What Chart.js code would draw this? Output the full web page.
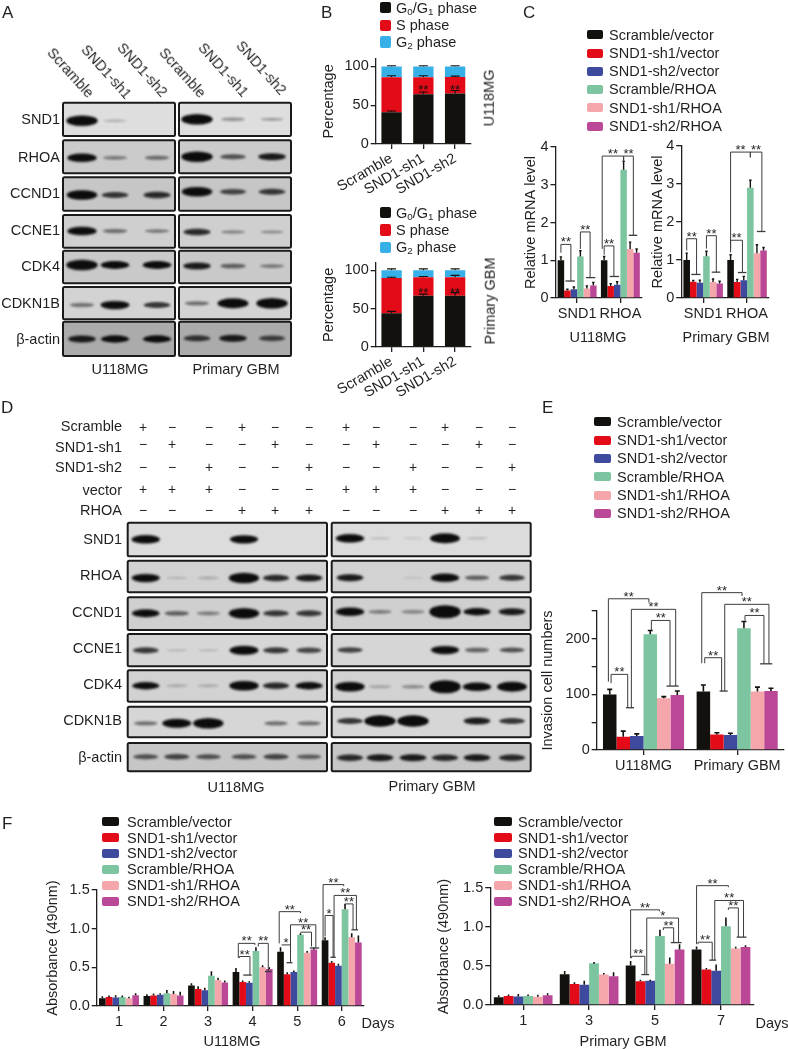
<!DOCTYPE html>
<html><head><meta charset="utf-8">
<style>
html,body{margin:0;padding:0;background:#fff}
#page{position:relative;width:788px;height:1049px;overflow:hidden;font-family:"Liberation Sans",Arial,sans-serif;color:#231f20}
canvas{position:absolute}
.t{position:absolute;white-space:nowrap;line-height:1;z-index:5;will-change:transform}
.s{position:absolute;border-radius:2px;z-index:5}
sub{font-size:.68em;line-height:0;vertical-align:-.25em}
</style>
<script src="https://cdn.jsdelivr.net/npm/chart.js@4"></script>
</head><body><div id="page"></div>
<script>
// ---------- Data ----------
const seriesNames=['Scramble/vector','SND1-sh1/vector','SND1-sh2/vector','Scramble/RHOA','SND1-sh1/RHOA','SND1-sh2/RHOA'];
const proteins=['SND1','RHOA','CCND1','CCNE1','CDK4','CDKN1B','β-actin'];
const phaseNames=['G<sub>0</sub>/G<sub>1</sub> phase','S phase','G<sub>2</sub> phase'];
const shLabels=['Scramble','SND1-sh1','SND1-sh2'];
// A: band strength, one row per protein, six lanes
const blotA=[[1,.1,0,1,.2,.15],[.8,.25,.3,1,.4,.6],[.9,.5,.55,.9,.45,.5],[.8,.3,.25,.55,.2,.18],[1,.7,.7,.6,.35,.25],[.3,.75,.5,.3,.95,1],[.6,.65,.65,.5,.6,.45]];
// D: band strength
const blotDU=[[.8,0,0,.75,0,0],[.75,.04,.1,1,.55,.6],[.7,.35,.25,1,.5,.5],[.5,.04,.04,.85,.5,.45],[.65,.1,.1,.9,.55,.65],[.3,.85,1,0,.3,.3],[.4,.45,.4,.4,.45,.35]];
const blotDP=[[.8,.03,.02,.95,.05,0],[.6,0,.02,.8,.35,.5],[.8,.25,.22,1.3,.65,.6],[.45,0,0,.75,.35,.4],[.9,.12,.2,1.3,.8,.95],[.5,1.1,1.1,0,.6,.5],[.55,.6,.6,.55,.6,.55]];
const treatments=['Scramble','SND1-sh1','SND1-sh2','vector','RHOA'];
const treatmentSigns=['+−−+−−','−+−−+−','−−+−−+','+++−−−','−−−+++'];
// B
const bU118G0=[41,64,65], bU118S=[45,22,21.5], bU118G2=[14,14,13.5];
const bU118G0Err=[1.5,3,4], bU118SErr=[2,2,1], bU118G2Err=[1,1,1];
const bGbmG0=[44,67,67], bGbmS=[46,24,24], bGbmG2=[10,9,9];
const bGbmG0Err=[2.5,2,4], bGbmSErr=[1,1,2.5], bGbmG2Err=[2,2,2];
// C (rows = SND1, RHOA)
const cGenes=['SND1','RHOA'];
const cU118=[[1,.2,.23,1.1,.25,.33],[1,.32,.35,3.4,1.3,1.2]];
const cU118Err=[[.09,.03,.06,.15,.07,.08],[.1,.06,.08,.22,.18,.1]];
const cGbm=[[1,.43,.4,1.1,.42,.38],[1,.42,.47,2.9,1.18,1.25]];
const cGbmErr=[[.18,.03,.07,.13,.08,.06],[.14,.07,.1,.2,.22,.08]];
// E
const eCells=['U118MG','Primary GBM'];
const eCounts=[[100,24,25,208,93,99],[105,28,27,219,105,106]];
const eCountsErr=[[9,10,4,7,3,7],[12,3,3,12,8,5]];
// F
const fDaysU=['1','2','3','4','5','6'];
const fU118=[[.1,.115,.11,.115,.1,.14],[.13,.135,.145,.165,.155,.135],[.265,.22,.205,.39,.335,.305],[.44,.31,.3,.71,.5,.48],[.7,.41,.44,.92,.69,.73],[.85,.56,.52,1.25,.89,.82]];
const fU118Err=[[.015,.01,.02,.01,.01,.015],[.01,.015,.01,.03,.03,.04],[.02,.025,.02,.05,.02,.015],[.04,.01,.01,.04,.015,.01],[.05,.015,.01,.01,.01,.015],[.03,.01,.015,.06,.04,.08]];
const fDaysG=['1','3','5','7'];
const fGbm=[[.1,.115,.11,.115,.105,.125],[.395,.27,.26,.535,.39,.37],[.505,.305,.31,.885,.53,.71],[.71,.455,.44,1.01,.725,.745]];
const fGbmErr=[[.015,.01,.02,.01,.015,.015],[.03,.01,.04,.005,.01,.04],[.05,.01,.005,.07,.07,.06],[.03,.01,.07,.1,.01,.01]];
// significance brackets: group, series start, left foot, top, series end, right foot, stars, cap start, cap end
const cU118Sig=[[0,0,1.2,1.42,1.54,.45,'**',.7,2.15],[0,3,1.3,1.75,4.5,.54,'**',3.85,5.3],[1,0,1.15,1.38,1.5,.57,'**',.85,2.3],[1,-.3,1.3,3.76,3,3.62,'**'],[1,3,3.62,3.76,4.5,1.66,'**',3.8,5.1]];
const cGbmSig=[[0,0,1.25,1.56,1.5,.62,'**',.7,2.1],[0,3,1.3,1.64,4.5,.68,'**',3.8,5.1],[1,0,1.2,1.52,1.8,.67,'**',1.1,2.4],[1,0,1.3,3.84,3,3.7,'**'],[1,3,3.7,3.84,4.75,1.75,'**',4,5.3]];
const eSig=[[0,-.1,123,272,2.9,265,'**'],[0,.1,120,136,1.33,76,'**',1.2,1.8],[0,1.6,76,253,4.88,115,'**',4.2,5.1],[0,3.08,215,233,4.46,115,'**'],[1,-.12,156,283,2.86,277,'**'],[1,.1,156,166,1.35,106,'**',1.2,1.8],[1,1.58,106,262,4.85,155,'**',4.2,5.1],[1,3.08,233,242,4.48,155,'**']];
const fU118Sig=[[3,.35,.62,.81,2.85,.79,'**'],[3,.5,.62,.64,2.1,.4,'**',1.1,2.35],[3,3.35,.77,.81,4.85,.445,'**',4.35,5.35],
[4,-.2,.81,1.22,3,1.2,'**'],[4,.15,.79,.79,1.5,.56,'*',.9,1.8],[4,1.5,.56,1.05,5.3,.75,'**',4.4,5.8],[4,3,.95,.955,4.65,.77,'**'],
[5,-.3,.85,1.57,2.8,1.55,'**'],[5,0,.9,1.17,1.2,.63,'*',.8,1.6],[5,1.35,.63,1.43,4.7,.985,'**',3.95,4.95],[5,2.95,1.3,1.32,4.2,.985,'**']];
const fGbmSig=[[2,0,.6,1.22,2.95,1.2,'**'],[2,.1,.6,.625,1.45,.39,'**',1.1,1.9],[2,1.65,.39,1.115,4.9,.8,'*',4.1,5.2],[2,3.35,.96,.99,4.4,.8,'**'],
[3,0,.78,1.53,3.25,1.51,'**'],[3,.15,.78,.805,1.6,.575,'**',1.3,2],[3,1.86,.575,1.34,4.8,.87,'**',4.1,5.1],[3,3.25,1.22,1.245,4.27,.87,'**']];
// ---------- Styles ----------
const seriesColors=['#12110d','#e30b17','#3d4a9e','#7dc5a0','#f4a6ab','#bb4797'];
const phaseColors=['#12110d','#e30b17','#36b0e6'];
const INK='#231f20', FS=14.5;
const page=document.getElementById('page');
const FONT={family:'"Liberation Sans",Arial,sans-serif',size:FS};
Chart.defaults.color=INK; Chart.defaults.font.family=FONT.family;

function T(html,x,y,o={}){const d=document.createElement('div');d.className='t';d.innerHTML=html;
 const a=o.align||'left',size=o.size||FS;d.style.fontSize=size+'px';d.style.left=x+'px';d.style.top=y+'px';
 const tx=a==='left'?'0':a==='right'?'-100%':'-50%';
 d.style.transformOrigin=a==='left'?'0 50%':'50% 50%';
 d.style.transform=`translate(${tx},-50%)`+(o.rot?` rotate(${o.rot}deg)`:'');page.appendChild(d);return d}
function legend(names,colors,sx,sw,sh,tx,ys){names.forEach((n,i)=>{const s=document.createElement('div');s.className='s';
 s.style.cssText=`left:${sx}px;top:${ys[i]-sh/2}px;width:${sw}px;height:${sh}px;background:${colors[i]}`;page.appendChild(s);T(n,tx,ys[i]);});}

const errorBars={id:'errorBars',afterDatasetsDraw(ch,a,opt){const c=ch.ctx,ys=ch.scales.y;c.save();
 ch.data.datasets.forEach((d,i)=>{if(!d.errs)return;const m=ch.getDatasetMeta(i);
  m.data.forEach((el,k)=>{const top=el.y,h=ys.getPixelForValue(0)-ys.getPixelForValue(d.errs[k]);
   c.strokeStyle='#12110d';c.lineWidth=opt.lw||1.4;c.beginPath();c.moveTo(el.x,top);c.lineTo(el.x,top-h);
   c.moveTo(el.x-opt.cap,top-h);c.lineTo(el.x+opt.cap,top-h);c.stroke();});});c.restore();}};
const brackets={id:'brackets',afterDraw(ch,a,opt){const c=ch.ctx,xs=ch.scales.x,ys=ch.scales.y,n=opt.n||6;
 const cw=xs.getPixelForValue(1)-xs.getPixelForValue(0),bw=cw*opt.pct/n;
 const X=(g,s)=>xs.getPixelForValue(g)+(s-(n-1)/2)*bw;c.save();
 (opt.sig||[]).forEach(b=>{const[g,s1,y1,top,s2,y2,lab,ca,cb]=b;const x1=X(g,s1),x2=X(g,s2),Yt=ys.getPixelForValue(top);
  c.strokeStyle='#3c3c3c';c.lineWidth=1;c.beginPath();c.moveTo(x1,ys.getPixelForValue(y1));c.lineTo(x1,Yt);c.lineTo(x2,Yt);c.lineTo(x2,ys.getPixelForValue(y2));c.stroke();
  if(ca!==undefined){c.lineWidth=1.3;c.beginPath();c.moveTo(X(g,ca),ys.getPixelForValue(y2));c.lineTo(X(g,cb),ys.getPixelForValue(y2));c.stroke();}
  c.fillStyle=INK;c.font=`13px ${FONT.family}`;c.textAlign='center';c.textBaseline='alphabetic';c.fillText(lab,(x1+x2)/2,Yt+2);});
 (opt.stars||[]).forEach(([g,v])=>{c.fillStyle='#12110d';c.font=`13px ${FONT.family}`;c.textAlign='center';c.textBaseline='alphabetic';c.fillText('**',xs.getPixelForValue(g),ys.getPixelForValue(v)+7);});
 c.restore();}};

function barChart(o){
 const pad=o.topPad||40,botH=o.botH||30,padR=o.padR||8,cl=o.titleCx-8.7;
 const W=Math.round(o.plot.r+padR-cl),H=Math.round(o.plot.b-o.plot.t+pad+botH);
 const cv=document.createElement('canvas');cv.width=W;cv.height=H;cv.style.left=cl+'px';cv.style.top=(o.plot.t-pad)+'px';page.appendChild(cv);
 const axis={color:INK,width:1.3};
 new Chart(cv.getContext('2d'),{type:'bar',data:{labels:o.labels,datasets:o.datasets},
  options:{responsive:false,animation:false,events:[],devicePixelRatio:1,
   layout:{padding:{top:pad,right:padR,left:0,bottom:0}},
   plugins:{legend:{display:false},tooltip:{enabled:false},
    errorBars:{cap:o.cap,lw:o.lw},brackets:{sig:o.sig,stars:o.stars,pct:o.pct,n:o.datasets.length}},
   datasets:{bar:{categoryPercentage:o.pct,barPercentage:o.barPct||1,borderWidth:0}},
   scales:{
    x:{stacked:!!o.stacked,grid:{drawOnChartArea:false,drawTicks:true,tickLength:5,color:INK,lineWidth:1.3,offset:false},border:axis,
       ticks:{font:FONT,color:INK,padding:o.xPad||2,autoSkip:false,minRotation:o.rot||0,maxRotation:o.rot||0},
       afterFit(s){s.height=botH}},
    y:{stacked:!!o.stacked,min:0,max:o.max,grid:{drawOnChartArea:false,drawTicks:true,tickLength:5,color:INK,lineWidth:1.3},border:axis,
       title:{display:true,text:o.title,font:FONT,color:INK,padding:0},
       ticks:{font:FONT,color:INK,padding:2,stepSize:o.step,includeBounds:false,callback:o.tick},
       afterFit(s){s.width=o.plot.l-cl}}
   }},plugins:[errorBars,brackets]});
}
function grouped(rows,errs){return seriesNames.map((n,i)=>({label:n,backgroundColor:seriesColors[i],data:rows.map(r=>r[i]),errs:errs.map(r=>r[i])}));}

// ---------- Blots ----------
function band(i,base){const w=base*(.72+.33*Math.min(i,1.1)),h=1.5+9*i,blur=1.1;
 const cv=document.createElement('canvas');cv.width=Math.ceil(w+10);cv.height=Math.ceil(h+10);const c=cv.getContext('2d');
 c.filter=`blur(${blur}px)`;c.fillStyle=`rgba(12,12,12,${Math.min(1,.12+i*1.35)})`;c.beginPath();c.ellipse(cv.width/2,cv.height/2,w/2,h/2,0,0,7);c.fill();return cv;}
const frames={id:'frames',beforeDatasetsDraw(ch,a,opt){const c=ch.ctx,xs=ch.scales.x,ys=ch.scales.y;c.save();
 opt.rects.forEach(r=>{const x=xs.getPixelForValue(r[0]),x2=xs.getPixelForValue(r[1]),y=ys.getPixelForValue(r[2]),y2=ys.getPixelForValue(r[3]);
  c.fillStyle=r[4];c.strokeStyle='#1a1a1a';c.lineWidth=2;c.beginPath();c.roundRect(x,y,x2-x,y2-y,1.5);c.fill();c.stroke();});c.restore();}};
function blotChart(top,height,groups,rowRanges,baseW){
 const cv=document.createElement('canvas');cv.width=788;cv.height=height;cv.style.left='0';cv.style.top=top+'px';page.appendChild(cv);
 const rects=[];const pts=[];
 groups.forEach(g=>{rowRanges.forEach((r,ri)=>{rects.push([g.l,g.r,r[0],r[1],g.bg[ri]]);
  g.values[ri].forEach((v,k)=>{if(v>0)pts.push({x:g.lanes[k],y:g.rowY[ri],v});});});});
 new Chart(cv.getContext('2d'),{type:'scatter',data:{datasets:[{data:pts,pointRadius:5,pointStyle:ctx=>{const p=ctx.raw;return p?band(p.v,baseW):'circle'}}]},
  options:{responsive:false,animation:false,events:[],devicePixelRatio:1,layout:{padding:0,autoPadding:false},
   plugins:{legend:{display:false},tooltip:{enabled:false},frames:{rects}},
   scales:{x:{type:'linear',display:false,min:0,max:788},y:{type:'linear',display:false,reverse:true,min:top,max:top+height}}},plugins:[frames]});
}
const rowsA=[[102.7,136],[140.3,173.3],[177.3,210.7],[215,247.7],[250.7,283.3],[287,319.3],[321.7,356]];
const bgA=['#dedede','#cbcbcb','#c6c6c6','#cfcfcf','#c9c9c9','#d3d3d3','#ababab'];
blotChart(95,270,[
 {l:63,r:175,lanes:[82,115,157],values:blotA.map(r=>r.slice(0,3)),rowY:[120.7,157.7,195,231,265,305,339],bg:bgA},
 {l:179,r:291,lanes:[197,233,272],values:blotA.map(r=>r.slice(3)),rowY:[119.3,156.7,191.7,232,266,303.3,338.3],bg:bgA}],rowsA,30);
const rowsD=[[522.7,556.3],[560.7,592.3],[597.3,630],[634,666.3],[670.3,701.7],[706.7,737.3],[743,771.3]];
const bgD=['#dcdcdc','#d2d2d2','#cfcfcf','#d6d6d6','#d2d2d2','#d6d6d6','#c6c6c6'];
blotChart(515,265,[
 {l:127.7,r:327,lanes:[145.7,176.7,208.3,244,276,309],values:blotDU,rowY:[539.3,578,613.3,650.3,685.7,723.3,756.7],bg:bgD},
 {l:331.7,r:530.7,lanes:[350,380,413,445,477,512],values:blotDP,rowY:[538.3,577.7,611.7,650,686.7,721,757.7],bg:bgD}],rowsD,29);

// ---------- Panel letters ----------
[['A',2,11.5],['B',321,11.5],['C',522.5,11.5],['D',1,406.5],['E',541.5,406.5],['F',2,823]].forEach(p=>T(p[0],p[1],p[2],{size:17}));
// A labels
[['Scramble',50,50],['SND1-sh1',84,47],['SND1-sh2',120,45],['Scramble',162,50],['SND1-sh1',201,45],['SND1-sh2',239,43]].forEach(p=>T(p[0],p[1],p[2],{rot:48}));
[119,157,193,230,266,303,339].forEach((y,i)=>T(proteins[i],60,y,{align:'right'}));
T('U118MG',119.5,369,{align:'center'});T('Primary GBM',235.5,369,{align:'center'});
// D labels
[426,447,467,490,510].forEach((y,i)=>T(treatments[i],121.5,y,{align:'right'}));
[539,575,612,648,684,720,757].forEach((y,i)=>T(proteins[i],121.5,y,{align:'right'}));
const signYs=[427,443.7,467.3,488.7,510];
[[143.3,171.7,209,242.3,275,308.7],[346,375.7,412.7,445.3,478.7,511.7]].forEach(cols=>cols.forEach((x,k)=>signYs.forEach((y,r)=>T(treatmentSigns[r][k],x,y,{align:'center',size:14}))));
T('U118MG',235.7,786.5,{align:'center'});T('Primary GBM',431.7,786,{align:'center'});

// ---------- B ----------
function phaseSets(a,b,c,ea,eb,ec){return [a,b,c].map((d,i)=>({label:phaseNames[i],backgroundColor:phaseColors[i],data:d,errs:[ea,eb,ec][i]}));}
const rotShort=30;
legend(phaseNames,phaseColors,379.5,11.5,11.5,395.5,[7.7,25.3,42]);
barChart({plot:{l:375.5,r:471,t:52,b:144},titleCx:328.5,labels:shLabels,datasets:phaseSets(bU118G0,bU118S,bU118G2,bU118G0Err,bU118SErr,bU118G2Err),stacked:true,max:110,step:50,title:'Percentage',cap:4.5,lw:1.1,pct:.64,stars:[[1,74],[2,74]],rot:rotShort,botH:56,topPad:4,xPad:1});
legend(phaseNames,phaseColors,379.5,11.5,11.5,395.5,[212.7,230,247.3]);
barChart({plot:{l:375.5,r:471,t:255.7,b:346.7},titleCx:328.5,labels:shLabels,datasets:phaseSets(bGbmG0,bGbmS,bGbmG2,bGbmG0Err,bGbmSErr,bGbmG2Err),stacked:true,max:110,step:50,title:'Percentage',cap:4.5,lw:1.1,pct:.64,stars:[[1,74],[2,74]],rot:rotShort,botH:56,topPad:4,xPad:1});
T('U118MG',489,97.5,{align:'center',rot:-90});T('Primary GBM',490,300.5,{align:'center',rot:-90});

// ---------- C ----------
legend(seriesNames,seriesColors,586.7,16.8,9,609,[34.7,53,71,89,107.7,126]);
barChart({plot:{l:555.5,r:641.5,t:146.7,b:297.7},titleCx:530.7,labels:cGenes,datasets:grouped(cU118,cU118Err),max:4,step:1,title:'Relative mRNA level',cap:1.2,lw:1.4,pct:.9,sig:cU118Sig,topPad:20,botH:26});
barChart({plot:{l:681.5,r:769.5,t:145.7,b:297.7},titleCx:658,labels:cGenes,datasets:grouped(cGbm,cGbmErr),max:4,step:1,title:'Relative mRNA level',cap:1.2,lw:1.4,pct:.9,sig:cGbmSig,topPad:20,botH:26});
T('U118MG',598,336.7,{align:'center'});T('Primary GBM',725.7,336.7,{align:'center'});

// ---------- E ----------
legend(seriesNames,seriesColors,593.5,17,9,616.7,[421.7,440,458.3,476.7,495,513.3]);
barChart({plot:{l:597,r:784,t:611,b:750},titleCx:548,labels:eCells,datasets:grouped(eCounts,eCountsErr),max:250,step:50,title:'Invasion cell numbers',cap:2.5,lw:1.6,pct:.866,sig:eSig,topPad:30,botH:28,padR:4,tick:v=>v%100===0?v:''});

// ---------- F ----------
legend(seriesNames,seriesColors,101.7,17.5,9,126.7,[821.7,837.7,853.3,869,885,901]);
barChart({plot:{l:97,r:364.6,t:890.3,b:1006},titleCx:53,labels:fDaysU,datasets:grouped(fU118,fU118Err),max:1.5,step:.5,title:'Absorbance (490nm)',cap:.8,lw:1.6,pct:.897,sig:fU118Sig,topPad:16,botH:30,tick:v=>v.toFixed(1)});
T('Days',378,1022.7,{align:'center'});T('U118MG',231.7,1040.7,{align:'center'});
legend(seriesNames,seriesColors,494.3,17.5,9,518.3,[821.7,837.7,853.3,869,885,901]);
barChart({plot:{l:490.5,r:754.3,t:888.3,b:1005.7},titleCx:444,labels:fDaysG,datasets:grouped(fGbm,fGbmErr),max:1.5,step:.5,title:'Absorbance (490nm)',cap:.8,lw:1.6,pct:.89,sig:fGbmSig,topPad:16,botH:30,tick:v=>v.toFixed(1)});
T('Days',771.7,1022.7,{align:'center'});T('Primary GBM',622.7,1040.7,{align:'center'});
</script></body></html>
